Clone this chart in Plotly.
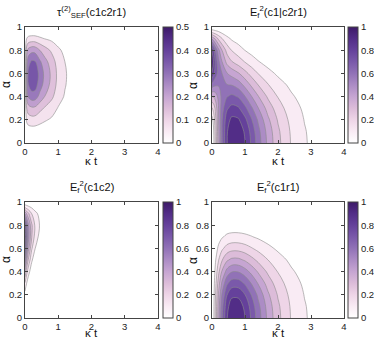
import plotly.graph_objects as go

# kappa*t grid (x) and alpha grid (y) of the four maps
KT = [0, 0.05, 0.1, 0.2, 0.3, 0.45, 0.6, 0.8, 1.0, 1.2, 1.4, 1.7, 2.0, 2.4, 2.8, 3.2, 4.0]
ALPHA = [0, 0.1, 0.2, 0.3, 0.4, 0.5, 0.6, 0.7, 0.8, 0.9, 0.95, 1.0]

# tau^(2)_SEF(c1c2r1), one row per alpha
TAU_SEF = [
    [0, 0, 0, 0, 0, 0, 0, 0, 0, 0, 0, 0, 0, 0, 0, 0, 0],
    [0, 0.013, 0.018, 0.020, 0.019, 0.016, 0.012, 0.009, 0.005, 0.003, 0.002, 0, 0, 0, 0, 0, 0],
    [0, 0.072, 0.097, 0.108, 0.107, 0.086, 0.068, 0.050, 0.029, 0.017, 0.009, 0.002, 0, 0, 0, 0, 0],
    [0, 0.137, 0.185, 0.206, 0.204, 0.164, 0.130, 0.095, 0.055, 0.032, 0.017, 0.004, 0, 0, 0, 0, 0],
    [0, 0.228, 0.308, 0.343, 0.340, 0.273, 0.217, 0.158, 0.091, 0.053, 0.028, 0.007, 0, 0, 0, 0, 0],
    [0, 0.280, 0.378, 0.421, 0.417, 0.335, 0.267, 0.194, 0.112, 0.065, 0.034, 0.009, 0, 0, 0, 0, 0],
    [0, 0.293, 0.396, 0.441, 0.437, 0.351, 0.279, 0.203, 0.117, 0.068, 0.036, 0.009, 0, 0, 0, 0, 0],
    [0, 0.260, 0.352, 0.392, 0.388, 0.312, 0.248, 0.180, 0.104, 0.060, 0.032, 0.008, 0, 0, 0, 0, 0],
    [0, 0.182, 0.246, 0.274, 0.272, 0.218, 0.174, 0.126, 0.073, 0.042, 0.022, 0.006, 0, 0, 0, 0, 0],
    [0, 0.060, 0.081, 0.090, 0.089, 0.072, 0.057, 0.041, 0.024, 0.014, 0.007, 0.002, 0, 0, 0, 0, 0],
    [0, 0.020, 0.026, 0.029, 0.029, 0.023, 0.019, 0.014, 0.008, 0.005, 0.002, 0.001, 0, 0, 0, 0, 0],
    [0, 0, 0, 0, 0, 0, 0, 0, 0, 0, 0, 0, 0, 0, 0, 0, 0],
]

# E_f^2(c1|c2r1)
EF2_C1_C2R1 = [
    [0, 0.080, 0.207, 0.468, 0.682, 0.892, 0.986, 0.986, 0.903, 0.782, 0.650, 0.472, 0.328, 0.193, 0.111, 0.061, 0.019],
    [0.007, 0.096, 0.225, 0.483, 0.690, 0.888, 0.974, 0.970, 0.884, 0.764, 0.632, 0.458, 0.318, 0.187, 0.107, 0.059, 0.018],
    [0.059, 0.138, 0.257, 0.497, 0.687, 0.855, 0.925, 0.913, 0.826, 0.707, 0.585, 0.419, 0.290, 0.170, 0.097, 0.054, 0.017],
    [0.190, 0.239, 0.316, 0.501, 0.656, 0.784, 0.833, 0.813, 0.727, 0.615, 0.504, 0.358, 0.246, 0.145, 0.083, 0.045, 0.015],
    [0.400, 0.407, 0.437, 0.532, 0.630, 0.694, 0.722, 0.691, 0.605, 0.503, 0.406, 0.283, 0.195, 0.113, 0.064, 0.035, 0.011],
    [0.658, 0.627, 0.615, 0.609, 0.621, 0.607, 0.598, 0.556, 0.472, 0.381, 0.300, 0.206, 0.137, 0.080, 0.045, 0.024, 0.007],
    [0.889, 0.832, 0.756, 0.659, 0.604, 0.506, 0.462, 0.410, 0.334, 0.260, 0.197, 0.129, 0.084, 0.048, 0.027, 0.016, 0.005],
    [0.995, 0.893, 0.783, 0.625, 0.506, 0.370, 0.305, 0.250, 0.195, 0.146, 0.106, 0.065, 0.041, 0.023, 0.015, 0.007, 0.002],
    [0.889, 0.798, 0.690, 0.526, 0.402, 0.267, 0.194, 0.144, 0.098, 0.066, 0.042, 0.024, 0.014, 0.008, 0.005, 0.003, 0.001],
    [0.490, 0.431, 0.381, 0.276, 0.206, 0.129, 0.085, 0.055, 0.033, 0.019, 0.010, 0.004, 0.002, 0.001, 0, 0, 0],
    [0.210, 0.187, 0.164, 0.127, 0.092, 0.057, 0.036, 0.021, 0.012, 0.007, 0.002, 0.001, 0, 0, 0, 0, 0],
    [0, 0, 0, 0, 0, 0, 0, 0, 0, 0, 0, 0, 0, 0, 0, 0, 0],
]

# E_f^2(c1c2)
EF2_C1C2 = [
    [0, 0, 0, 0, 0, 0, 0, 0, 0, 0, 0, 0, 0, 0, 0, 0, 0],
    [0.007, 0.001, 0, 0, 0, 0, 0, 0, 0, 0, 0, 0, 0, 0, 0, 0, 0],
    [0.059, 0.020, 0.006, 0, 0, 0, 0, 0, 0, 0, 0, 0, 0, 0, 0, 0, 0],
    [0.190, 0.100, 0.045, 0.006, 0, 0, 0, 0, 0, 0, 0, 0, 0, 0, 0, 0, 0],
    [0.400, 0.240, 0.140, 0.040, 0.009, 0.001, 0, 0, 0, 0, 0, 0, 0, 0, 0, 0, 0],
    [0.658, 0.430, 0.290, 0.117, 0.040, 0.007, 0, 0, 0, 0, 0, 0, 0, 0, 0, 0, 0],
    [0.889, 0.630, 0.440, 0.215, 0.104, 0.030, 0.007, 0.001, 0, 0, 0, 0, 0, 0, 0, 0, 0],
    [0.995, 0.740, 0.550, 0.310, 0.165, 0.064, 0.024, 0.006, 0.002, 0, 0, 0, 0, 0, 0, 0, 0],
    [0.889, 0.690, 0.530, 0.320, 0.190, 0.090, 0.040, 0.016, 0.005, 0.002, 0, 0, 0, 0, 0, 0, 0],
    [0.490, 0.390, 0.320, 0.200, 0.130, 0.070, 0.036, 0.017, 0.007, 0.003, 0.001, 0, 0, 0, 0, 0, 0],
    [0.210, 0.170, 0.140, 0.098, 0.063, 0.035, 0.019, 0.008, 0.004, 0.002, 0, 0, 0, 0, 0, 0, 0],
    [0, 0, 0, 0, 0, 0, 0, 0, 0, 0, 0, 0, 0, 0, 0, 0, 0],
]

# E_f^2(c1r1)
EF2_C1R1 = [
    [0, 0.080, 0.207, 0.468, 0.682, 0.892, 0.986, 0.986, 0.903, 0.782, 0.650, 0.472, 0.328, 0.193, 0.111, 0.061, 0.019],
    [0, 0.078, 0.201, 0.454, 0.661, 0.866, 0.957, 0.957, 0.876, 0.759, 0.630, 0.457, 0.318, 0.187, 0.107, 0.059, 0.018],
    [0, 0.071, 0.183, 0.414, 0.605, 0.794, 0.876, 0.876, 0.802, 0.693, 0.578, 0.417, 0.290, 0.170, 0.097, 0.054, 0.017],
    [0, 0.059, 0.155, 0.353, 0.515, 0.680, 0.749, 0.749, 0.686, 0.592, 0.492, 0.355, 0.246, 0.145, 0.083, 0.045, 0.015],
    [0, 0.046, 0.121, 0.276, 0.408, 0.535, 0.594, 0.594, 0.543, 0.468, 0.388, 0.279, 0.195, 0.113, 0.064, 0.035, 0.011],
    [0, 0.032, 0.085, 0.198, 0.290, 0.384, 0.424, 0.424, 0.388, 0.333, 0.276, 0.200, 0.137, 0.080, 0.045, 0.024, 0.007],
    [0, 0.020, 0.052, 0.121, 0.180, 0.238, 0.264, 0.264, 0.242, 0.207, 0.171, 0.122, 0.084, 0.048, 0.027, 0.016, 0.005],
    [0, 0.010, 0.025, 0.060, 0.089, 0.119, 0.130, 0.130, 0.120, 0.104, 0.085, 0.060, 0.041, 0.023, 0.015, 0.007, 0.002],
    [0, 0.003, 0.008, 0.020, 0.028, 0.040, 0.044, 0.044, 0.040, 0.034, 0.027, 0.020, 0.014, 0.008, 0.005, 0.003, 0.001],
    [0, 0, 0.001, 0.002, 0.003, 0.005, 0.005, 0.005, 0.005, 0.004, 0.003, 0.002, 0.002, 0.001, 0, 0, 0],
    [0, 0, 0, 0, 0, 0, 0, 0, 0, 0, 0, 0, 0, 0, 0, 0, 0],
    [0, 0, 0, 0, 0, 0, 0, 0, 0, 0, 0, 0, 0, 0, 0, 0, 0],
]

X_TICKS = [0, 1, 2, 3, 4]
Y_TICKS = [0, 0.2, 0.4, 0.6, 0.8, 1]
Y_TICK_TEXT = ["0", "0.2", "0.4", "0.6", "0.8", "1"]

PURPLES = [
    [0.0, "#ffffff"], [0.1, "#f9ebf4"], [0.2, "#eed5e7"], [0.3, "#dcbcd9"],
    [0.4, "#c6a5d2"], [0.5, "#ac8cc5"], [0.6, "#9172b7"], [0.7, "#7a59aa"],
    [0.8, "#65419b"], [0.9, "#522d87"], [1.0, "#3d1a68"],
]

FONT = "Liberation Sans, Arial, sans-serif"
W, H = 374, 342

# title, data, colour max, first level, level step, colorbar ticks
panels = [
    ("τ<sup>(2)</sup><sub>SEF</sub>(c1c2r1)", TAU_SEF, 0.5, 0.06, 0.08,
     [0, 0.1, 0.2, 0.3, 0.4, 0.5], ["0", "0.1", "0.2", "0.3", "0.4", "0.5"]),
    ("E<sub>f</sub><sup>2</sup>(c1|c2r1)", EF2_C1_C2R1, 1.0, 0.1, 0.1,
     [0, 0.2, 0.4, 0.6, 0.8, 1], ["0", "0.2", "0.4", "0.6", "0.8", "1"]),
    ("E<sub>f</sub><sup>2</sup>(c1c2)", EF2_C1C2, 1.0, 0.1, 0.1,
     [0, 0.2, 0.4, 0.6, 0.8, 1], ["0", "0.2", "0.4", "0.6", "0.8", "1"]),
    ("E<sub>f</sub><sup>2</sup>(c1r1)", EF2_C1R1, 1.0, 0.1, 0.1,
     [0, 0.2, 0.4, 0.6, 0.8, 1], ["0", "0.2", "0.4", "0.6", "0.8", "1"]),
]

# plot boxes in pixels: x0, x1, y0 (top), y1 (bottom); colorbar left edge; x-label offset
boxes = [(25, 158, 27, 143), (212, 344, 27, 143), (25, 158, 202, 318), (212, 344, 202, 318)]
cbar_left = [163, 348, 163, 348]
xlabel_gap = [18, 18, 15, 15]

fig = go.Figure()
annotations = []

for i, (title, z, zmax, first, step, cb_vals, cb_text) in enumerate(panels):
    x0, x1, y0, y1 = boxes[i]
    sfx = "" if i == 0 else str(i + 1)
    xa, ya = "x" + sfx, "y" + sfx

    fig.add_trace(go.Contour(
        x=KT, y=ALPHA, z=z, xaxis=xa, yaxis=ya,
        colorscale=PURPLES, showscale=False, hoverinfo="skip",
        contours=dict(start=first, end=first + step * round((zmax - first) / step),
                      size=step, coloring="fill"),
        line=dict(color="#8c8c8c", width=0.6, smoothing=1.0),
    ))
    # continuous colour bar, like the original
    fig.add_trace(go.Scatter(
        x=[None], y=[None], mode="markers", xaxis=xa, yaxis=ya,
        showlegend=False, hoverinfo="skip",
        marker=dict(
            color=[0], cmin=0, cmax=zmax, colorscale=PURPLES, showscale=True,
            colorbar=dict(
                x=cbar_left[i] / W, xanchor="left", xpad=0, ypad=0,
                y=1 - (y0 + y1) / 2 / H, yanchor="middle",
                len=(y1 - y0) / H, lenmode="fraction",
                thickness=10, thicknessmode="pixels",
                outlinewidth=1, outlinecolor="#444",
                tickvals=cb_vals, ticktext=cb_text, ticks="",
                tickfont=dict(family=FONT, size=9.5, color="#222"),
            ),
        ),
    ))

    axis_common = dict(
        ticks="inside", ticklen=3, tickcolor="#444", showline=True,
        mirror="allticks", linecolor="#444", linewidth=1, showgrid=False,
        zeroline=False, tickfont=dict(family=FONT, size=9.5, color="#222"),
    )
    fig.update_layout({
        "xaxis" + sfx: dict(domain=[x0 / W, x1 / W], range=[0, 4], tickvals=X_TICKS,
                            anchor=ya, **axis_common),
        "yaxis" + sfx: dict(domain=[1 - y1 / H, 1 - y0 / H], range=[0, 1], tickvals=Y_TICKS,
                            ticktext=Y_TICK_TEXT, anchor=xa, **axis_common),
    })

    annotations += [
        dict(text=title, x=(x0 + x1) / 2 / W, y=1 - (y0 - 15) / H, xref="paper", yref="paper",
             showarrow=False, xanchor="center", yanchor="middle",
             font=dict(family=FONT, size=11, color="#111")),
        dict(text="κ t", x=(x0 + x1) / 2 / W, y=1 - (y1 + xlabel_gap[i]) / H,
             xref="paper", yref="paper", showarrow=False, xanchor="center", yanchor="middle",
             font=dict(family=FONT, size=11.5, color="#111")),
        dict(text="α", x=(x0 - 19) / W, y=1 - (y0 + y1) / 2 / H, xref="paper", yref="paper",
             showarrow=False, xanchor="center", yanchor="middle", textangle=-90,
             font=dict(family=FONT, size=12, color="#111")),
    ]

fig.update_layout(
    width=W, height=H, margin=dict(l=0, r=0, t=0, b=0, autoexpand=False),
    paper_bgcolor="white", plot_bgcolor="white",
    showlegend=False, annotations=annotations,
    font=dict(family=FONT, size=10, color="#222"),
)

# the page body has a default 8px margin; drop it so the figure fills the window
fig.write_html("out.html", config={"displayModeBar": False},
               post_script="document.body.style.margin='0';")
